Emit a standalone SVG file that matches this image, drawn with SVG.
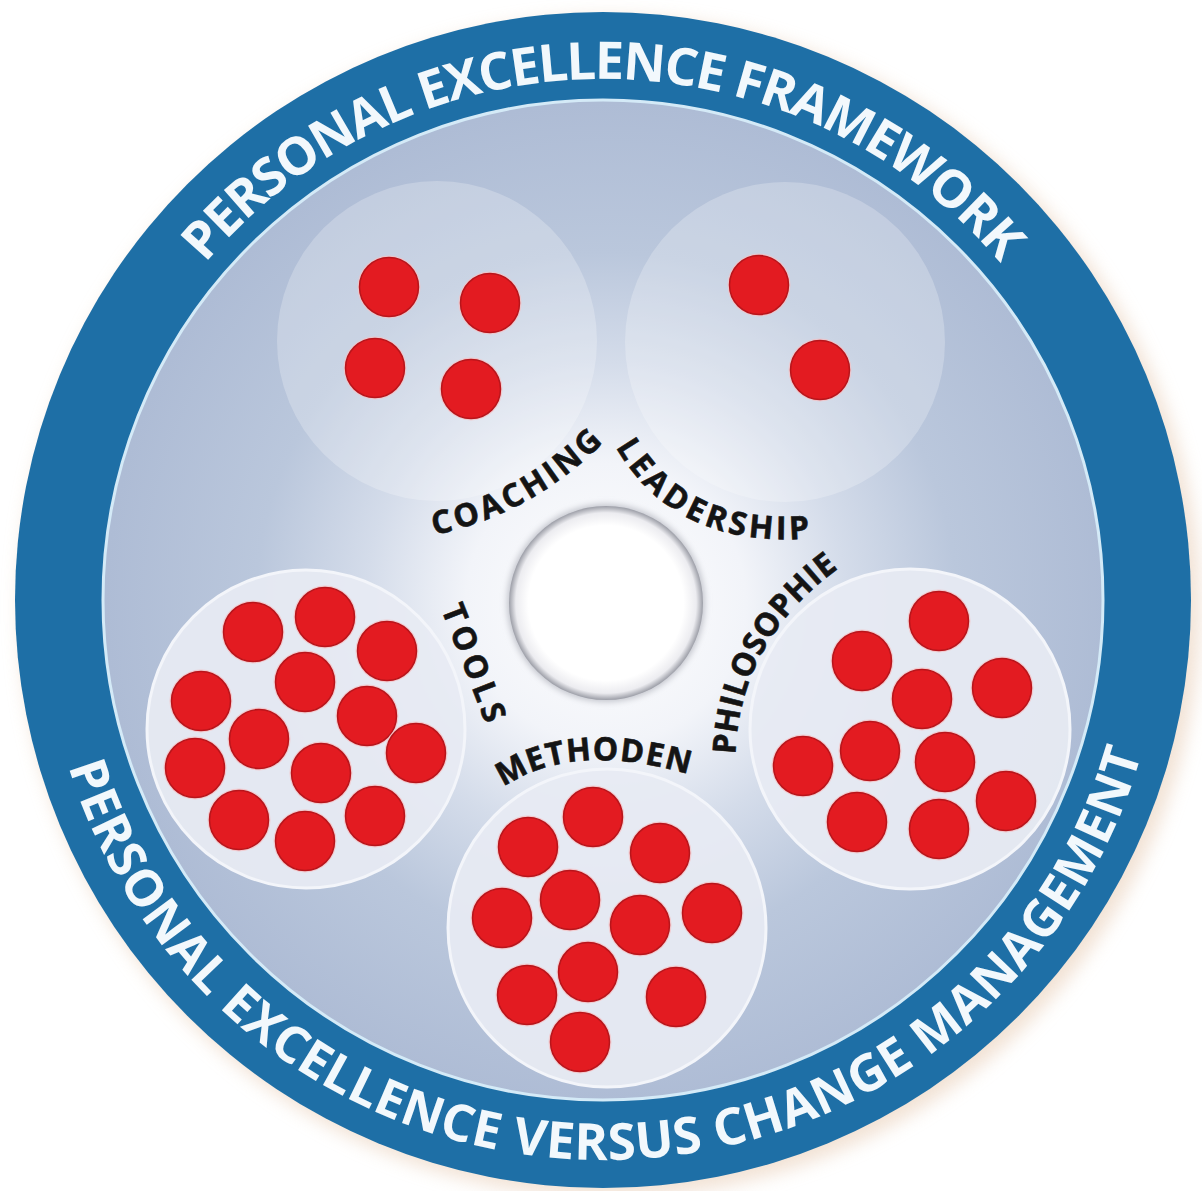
<svg xmlns="http://www.w3.org/2000/svg" width="1202" height="1191" viewBox="0 0 1202 1191">
<style>
.ring{font-family:"Open Sans","Noto Sans","Liberation Sans",sans-serif;font-weight:700;fill:#f2f8fc}
.lbl{font-family:"Open Sans","Noto Sans","Liberation Sans",sans-serif;font-weight:700;font-size:32px;fill:#141414;stroke:#141414;stroke-width:0.6}
.satTop{fill:#ffffff;fill-opacity:0.24}
.satBot{fill:#e7ebf3;fill-opacity:0.93;stroke:#f3f5fa;stroke-width:3}
</style>
<defs>
  <radialGradient id="discGrad" cx="606" cy="603" r="500" gradientUnits="userSpaceOnUse">
    <stop offset="0" stop-color="#ffffff"/>
    <stop offset="0.28" stop-color="#f2f4f9"/>
    <stop offset="0.48" stop-color="#d4dcea"/>
    <stop offset="0.7" stop-color="#bac7dc"/>
    <stop offset="1" stop-color="#aebcd5"/>
  </radialGradient>
  <radialGradient id="holeGrad" cx="0.5" cy="0.5" r="0.5">
    <stop offset="0.8" stop-color="#ffffff"/>
    <stop offset="0.93" stop-color="#ececf0"/>
    <stop offset="1" stop-color="#9c9ea7"/>
  </radialGradient>
  <filter id="blur10" x="-10%" y="-10%" width="120%" height="120%">
    <feGaussianBlur stdDeviation="9"/>
  </filter>
  <filter id="blur3" x="-20%" y="-20%" width="140%" height="140%">
    <feGaussianBlur stdDeviation="3"/>
  </filter>
  <g id="dot">
    <circle r="31.5" fill="#f6c2c4" opacity="0.75"/>
    <circle r="29.5" fill="#e31b21" stroke="#b8151b" stroke-width="1.5"/>
  </g>
  <path id="topArc" d="M 82,600 A 521 521 0 0 1 1124,600"/>
  <path id="botArc" d="M 43,600 A 560 560 0 0 0 1163,600"/>
  <path id="pCoaching" d="M413.9,527.6 Q528.8,509.6 608.5,421.2"/>
  <path id="pLeadership" d="M609.1,407.5 Q666.6,555.1 845.7,522.3"/>
  <path id="pPhilosophie" d="M725.3,789.2 Q712.8,629.4 861.1,540.0"/>
  <path id="pMethoden" d="M476.4,794.8 Q560.4,715.7 722.8,773.8"/>
  <path id="pTools" d="M447.6,596 Q474.5,663.5 499.4,729"/>
</defs>

<rect width="1202" height="1191" fill="#ffffff"/>

<g id="ring">
  <circle cx="610" cy="607" r="590" fill="#ecd6c2" opacity="0.7" filter="url(#blur10)"/>
  <circle cx="603" cy="600" r="588" fill="#1e6fa6"/>
  <circle cx="603" cy="600" r="500" fill="url(#discGrad)" stroke="#d4eaf7" stroke-width="3"/>
</g>

<g id="node-top-left">
  <circle class="satTop" cx="437" cy="341" r="160"/>
  <use href="#dot" x="389" y="287"/>
  <use href="#dot" x="490" y="303"/>
  <use href="#dot" x="375" y="368"/>
  <use href="#dot" x="471" y="389"/>
</g>

<g id="node-top-right">
  <circle class="satTop" cx="785" cy="342" r="160"/>
  <use href="#dot" x="759" y="285"/>
  <use href="#dot" x="820" y="370"/>
</g>

<g id="node-bottom-left">
  <circle class="satBot" cx="306" cy="729" r="159"/>
  <use href="#dot" x="253" y="632"/>
  <use href="#dot" x="325" y="617"/>
  <use href="#dot" x="387" y="651"/>
  <use href="#dot" x="305" y="682"/>
  <use href="#dot" x="201" y="701"/>
  <use href="#dot" x="367" y="716"/>
  <use href="#dot" x="259" y="739"/>
  <use href="#dot" x="416" y="753"/>
  <use href="#dot" x="195" y="768"/>
  <use href="#dot" x="321" y="773"/>
  <use href="#dot" x="239" y="820"/>
  <use href="#dot" x="375" y="816"/>
  <use href="#dot" x="305" y="841"/>
</g>

<g id="node-bottom-center">
  <circle class="satBot" cx="607" cy="928" r="159"/>
  <use href="#dot" x="593" y="817"/>
  <use href="#dot" x="528" y="847"/>
  <use href="#dot" x="660" y="853"/>
  <use href="#dot" x="570" y="900"/>
  <use href="#dot" x="502" y="918"/>
  <use href="#dot" x="640" y="925"/>
  <use href="#dot" x="712" y="913"/>
  <use href="#dot" x="588" y="972"/>
  <use href="#dot" x="527" y="995"/>
  <use href="#dot" x="676" y="997"/>
  <use href="#dot" x="580" y="1042"/>
</g>

<g id="node-bottom-right">
  <circle class="satBot" cx="910" cy="729" r="160"/>
  <use href="#dot" x="939" y="621"/>
  <use href="#dot" x="862" y="661"/>
  <use href="#dot" x="1002" y="688"/>
  <use href="#dot" x="922" y="699"/>
  <use href="#dot" x="870" y="751"/>
  <use href="#dot" x="803" y="766"/>
  <use href="#dot" x="945" y="762"/>
  <use href="#dot" x="1006" y="801"/>
  <use href="#dot" x="857" y="822"/>
  <use href="#dot" x="939" y="829"/>
</g>

<g id="node-center">
  <circle cx="606" cy="603" r="99" fill="#c2c4cc" filter="url(#blur3)"/>
  <circle cx="606" cy="603" r="97" fill="url(#holeGrad)"/>
</g>

<g id="ring-texts">
  <text class="ring" font-size="52"><textPath href="#topArc" startOffset="50%" text-anchor="middle" textLength="905" lengthAdjust="spacing">PERSONAL EXCELLENCE FRAMEWORK</textPath></text>
  <text class="ring" font-size="51"><textPath href="#botArc" startOffset="50.4%" text-anchor="middle" textLength="1435" lengthAdjust="spacing">PERSONAL EXCELLENCE VERSUS CHANGE MANAGEMENT</textPath></text>
</g>

<g id="labels">
  <text class="lbl" dy="11"><textPath href="#pCoaching" startOffset="50%" text-anchor="middle" textLength="190" lengthAdjust="spacing">COACHING</textPath></text>
  <text class="lbl" dy="11"><textPath href="#pLeadership" startOffset="50%" text-anchor="middle" textLength="216" lengthAdjust="spacing">LEADERSHIP</textPath></text>
  <text class="lbl" dy="11"><textPath href="#pPhilosophie" startOffset="50%" text-anchor="middle" textLength="230" lengthAdjust="spacing">PHILOSOPHIE</textPath></text>
  <text class="lbl" dy="11"><textPath href="#pMethoden" startOffset="49%" text-anchor="middle" textLength="200" lengthAdjust="spacing">METHODEN</textPath></text>
  <text class="lbl" dy="11"><textPath href="#pTools" startOffset="50%" text-anchor="middle" textLength="124" lengthAdjust="spacing">TOOLS</textPath></text>
</g>
</svg>
